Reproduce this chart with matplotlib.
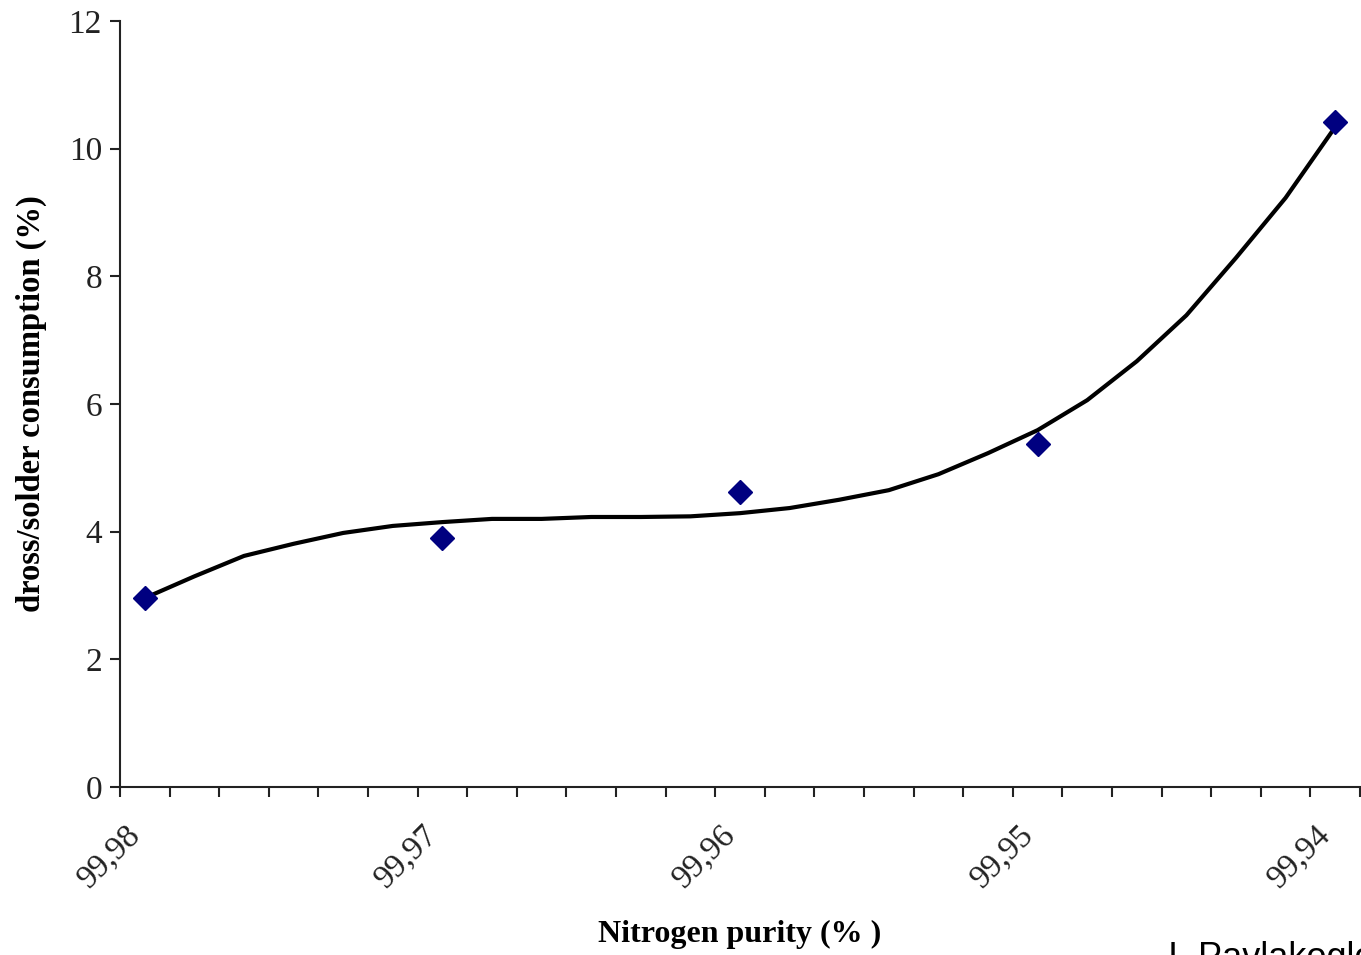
import matplotlib
matplotlib.use('Agg')
import matplotlib.pyplot as plt
import matplotlib.transforms as mtransforms
import numpy as np

# Pureza do nitrogênio (rótulos do eixo x) e pontos medidos
purity_labels = ['99,98', '99,97', '99,96', '99,95', '99,94']
point_pos = [0, 6, 12, 18, 24]
dross_points = [2.96, 3.90, 4.62, 5.37, 10.42]

# Linha de tendência, uma leitura por categoria (0..24)
trend_pos = list(range(25))
trend_vals = [2.96, 3.30, 3.62, 3.81, 3.98, 4.09, 4.15, 4.20, 4.20, 4.23,
              4.23, 4.24, 4.29, 4.37, 4.50, 4.65, 4.90, 5.23, 5.59, 6.06,
              6.67, 7.39, 8.29, 9.23, 10.34]

y_ticks = [0, 2, 4, 6, 8, 10, 12]

serif = ['Liberation Serif', 'DejaVu Serif']

fig = plt.figure(figsize=(13.61, 9.55), dpi=100)
ax = fig.add_axes([120 / 1361, 1 - 787 / 955, 1240 / 1361, 766 / 955])

ax.plot(trend_pos, trend_vals, color='black', linewidth=3.0, zorder=2)
ax.plot(point_pos, dross_points, linestyle='none', marker='D', markersize=12,
        color='#000080', zorder=3)

ax.set_xlim(-0.5, 24.5)
ax.set_ylim(0, 12)

ax.spines['top'].set_visible(False)
ax.spines['right'].set_visible(False)
for s in ['left', 'bottom']:
    ax.spines[s].set_linewidth(1.5)
    ax.spines[s].set_color('#222222')

ax.set_yticks(y_ticks)
ax.set_yticklabels([str(v) for v in y_ticks], fontfamily=serif, fontsize=24)
ax.tick_params(axis='y', direction='out', length=7, width=1.5, pad=6, colors='#222222')

ax.set_xticks(point_pos)
ax.set_xticklabels(purity_labels, fontfamily=serif, fontsize=24, rotation=45,
                   ha='right', va='top', rotation_mode='anchor')
ax.tick_params(axis='x', which='major', length=0, pad=23, colors='#222222')
ax.set_xticks(np.arange(-0.5, 25, 1), minor=True)
ax.tick_params(axis='x', which='minor', direction='out', length=7, width=1.5, color='#222222')

# desloca os rótulos rodados um pouco para a esquerda
desloc = mtransforms.ScaledTranslation(-20 / 100, 0, fig.dpi_scale_trans)
for lbl in ax.get_xticklabels():
    lbl.set_transform(lbl.get_transform() + desloc)

ax.set_ylabel('dross/solder consumption (%)', fontfamily=serif, fontsize=23.5,
              fontweight='bold')
ax.yaxis.set_label_coords(-0.059, 0.5)
ax.set_xlabel('Nitrogen purity (% )', fontfamily=serif, fontsize=23,
              fontweight='bold')
ax.xaxis.set_label_coords(0.5, -0.174)

fig.text(1168 / 1361, 1 - 941 / 955, 'I. Pavlakoglou', fontfamily='Liberation Sans',
         fontsize=26, va='top', ha='left')

fig.savefig('out.png', dpi=100)
